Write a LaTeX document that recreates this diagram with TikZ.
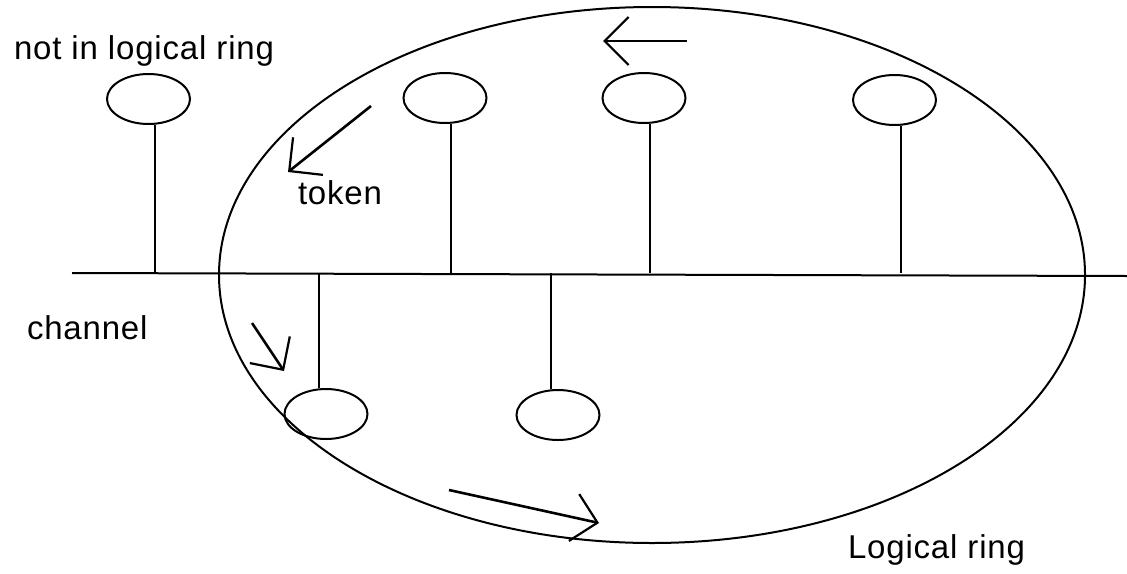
\documentclass[tikz,border=0pt]{standalone}
\usepackage{fontspec}
\setmainfont{Liberation Sans}[LetterSpace=2.5]
\usetikzlibrary{shapes.geometric,arrows.meta}
\begin{document}
\begin{tikzpicture}[x=0.5pt,y=-0.5pt,
  line width=1pt,
  station/.style={draw,ellipse,inner sep=0pt,minimum width=41.5pt,minimum height=25pt},
  ringstyle/.style={draw,ellipse,inner sep=0pt,minimum width=433pt,minimum height=268pt},
  lbl/.style={inner sep=0pt,anchor=base west,font=\fontsize{16.5pt}{19pt}\selectfont},
  flow/.style={line width=1.3pt,-{Straight Barb[length=12pt,width=24pt,line width=1.1pt]}}]
\useasboundingbox[fill=white] (0,0) rectangle (1127,573);

% logical ring
\node[ringstyle] (ring) at (652,275) {};

% channel
\coordinate (chL) at (72,273);
\coordinate (chR) at (1127,276);
\draw (chL) -- (chR);

% stations
\node[station] (s1) at (148.5,99) {};
\node[station] (s2) at (445,98) {};
\node[station] (s3) at (644,98) {};
\node[station] (s4) at (894.5,100) {};
\node[station] (b1) at (326,414) {};
\node[station] (b2) at (558,415) {};

% stems
\foreach \s in {s1,s2,s3,s4}{
  \draw ([xshift=3pt]\s.south) -- ([xshift=3pt]\s.south |- chL);
}
\foreach \s in {b1,b2}{
  \draw ([xshift=-3.5pt]\s.north) -- ([xshift=-3.5pt]\s.north |- chL);
}

% token flow arrows
\coordinate (a1s) at (687,41);  \coordinate (a1e) at (603,41);
\coordinate (a2s) at (371,106); \coordinate (a2e) at (288,172);
\coordinate (a3s) at (252,323); \coordinate (a3e) at (284,371);
\coordinate (a4s) at (449,490); \coordinate (a4e) at (599,523);
\draw[flow] (a1s) -- (a1e);
\draw[flow] (a2s) -- (a2e);
\draw[flow] (a3s) -- (a3e);
\draw[flow] (a4s) -- (a4e);

% labels
\node[lbl] (tnot) at (13,59) {not in logical ring};
\node[lbl] (ttok) at (297,204) {token};
\node[lbl] (tch) at (26,339) {channel};
\node[lbl] (tlr) at (847,558) {Logical ring};
\end{tikzpicture}
\end{document}
